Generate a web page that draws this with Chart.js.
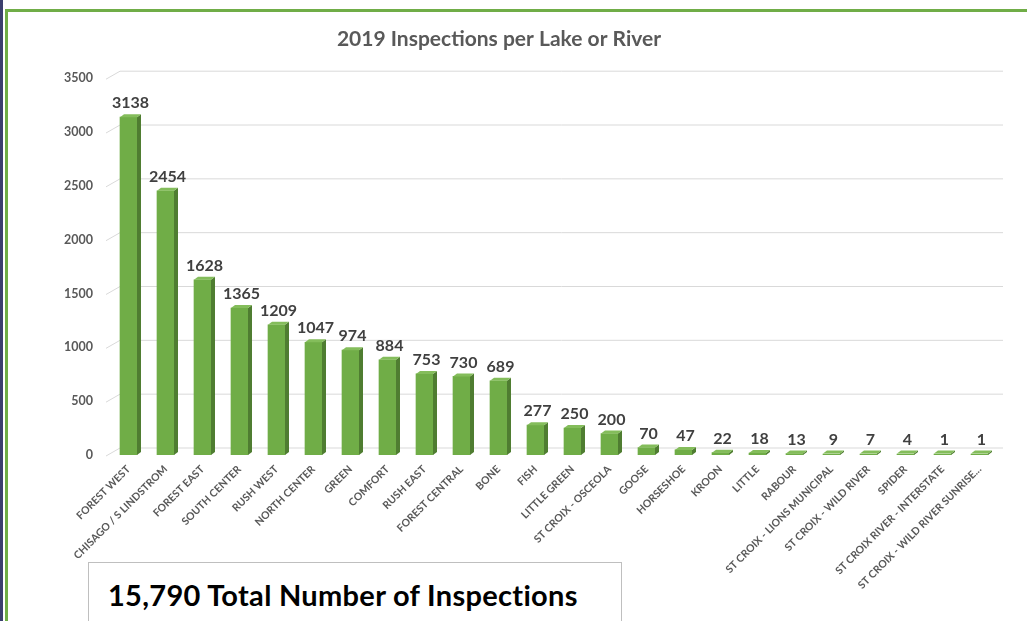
<!DOCTYPE html>
<html>
<head>
<meta charset="utf-8">
<script src="https://cdn.jsdelivr.net/npm/chart.js@4"></script>
<style>
  body { margin: 0; background: #fff; overflow: hidden; }
  #wrap { position: relative; width: 1027px; height: 621px; }
  #chart { position: absolute; left: 0; top: 0; }
  .navy { position: absolute; left: 0; top: 0; width: 3px; height: 621px; background: #3b3f6e; }
  .green-left { position: absolute; left: 5px; top: 9px; width: 3px; height: 612px; background: #70ad47; }
  .green-top { position: absolute; left: 5px; top: 9px; width: 1022px; height: 3px; background: #70ad47; }
  #total {
    position: absolute; left: 88px; top: 562px; width: 534px; height: 70px;
    border: 1px solid #bfbfbf; background: #fff; box-sizing: border-box;
    font-family: Lato, "Open Sans", sans-serif; font-weight: bold; font-size: 29px;
    color: #000; padding: 14px 0 0 19px; letter-spacing: 0.3px;
  }
</style>
</head>
<body>
<div id="wrap">
  <canvas id="chart" width="1027" height="621"></canvas>
  <div class="navy"></div>
  <div class="green-left"></div>
  <div class="green-top"></div>
  <div id="total">15,790 Total Number of Inspections</div>
</div>
<script>
// Lakes and rivers, in the order shown
const lakes = [
  "FOREST WEST", "CHISAGO / S LINDSTROM", "FOREST EAST", "SOUTH CENTER",
  "RUSH WEST", "NORTH CENTER", "GREEN", "COMFORT", "RUSH EAST",
  "FOREST CENTRAL", "BONE", "FISH", "LITTLE GREEN", "ST CROIX - OSCEOLA",
  "GOOSE", "HORSESHOE", "KROON", "LITTLE", "RABOUR",
  "ST CROIX - LIONS MUNICIPAL", "ST CROIX - WILD RIVER", "SPIDER",
  "ST CROIX RIVER - INTERSTATE", "ST CROIX - WILD RIVER SUNRISE..."
];

// Inspections per lake in 2019
const inspections = [
  3138, 2454, 1628, 1365, 1209, 1047, 974, 884, 753, 730, 689,
  277, 250, 200, 70, 47, 22, 18, 13, 9, 7, 4, 1, 1
];

const yTicks = [0, 500, 1000, 1500, 2000, 2500, 3000, 3500];

const font = "Lato, 'Open Sans', sans-serif";
const depthX = 4, depthY = 3;

// back-plane gridlines with a diagonal stub, like the 3D chart
const gridPlugin = {
  id: "grid3d",
  beforeDatasetsDraw(chart) {
    const ctx = chart.ctx;
    const y = chart.scales.y;
    const left = chart.chartArea.left - 4;
    ctx.save();
    ctx.strokeStyle = "#d9d9d9";
    ctx.lineWidth = 1;
    yTicks.forEach(v => {
      const py = y.getPixelForValue(v);
      ctx.beginPath();
      ctx.moveTo(left, py + 1);
      ctx.lineTo(left + 14, py - 7);
      ctx.lineTo(chart.chartArea.right + 5, py - 7);
      ctx.stroke();
    });
    ctx.restore();
  }
};

// darker side, lighter top, and value labels
const barPlugin = {
  id: "bar3d",
  afterDatasetsDraw(chart) {
    const ctx = chart.ctx;
    const meta = chart.getDatasetMeta(0);
    ctx.save();
    meta.data.forEach((bar, i) => {
      const half = bar.width / 2;
      const l = bar.x - half, r = bar.x + half;
      let top = bar.y;
      if (bar.base - top < 1.5) top = bar.base - 1.5;
      ctx.fillStyle = "#4f7d31";
      ctx.beginPath();
      ctx.moveTo(r, top);
      ctx.lineTo(r + depthX, top - depthY);
      ctx.lineTo(r + depthX, bar.base - depthY);
      ctx.lineTo(r, bar.base);
      ctx.closePath();
      ctx.fill();
      ctx.fillStyle = "#84bd5b";
      ctx.beginPath();
      ctx.moveTo(l, top);
      ctx.lineTo(l + depthX, top - depthY);
      ctx.lineTo(r + depthX, top - depthY);
      ctx.lineTo(r, top);
      ctx.closePath();
      ctx.fill();

      ctx.fillStyle = "#404040";
      ctx.font = "bold 16px " + font;
      ctx.textAlign = "center";
      ctx.textBaseline = "bottom";
      ctx.fillText(String(inspections[i]), bar.x + 2, top - 6);
    });
    ctx.restore();
  }
};

new Chart(document.getElementById("chart"), {
  type: "bar",
  data: {
    labels: lakes,
    datasets: [{
      label: "Inspections",
      data: inspections,
      backgroundColor: "#70ad47",
      barThickness: 17,
      minBarLength: 1
    }]
  },
  options: {
    responsive: false,
    animation: false,
    layout: { padding: { left: 0, right: 29, top: 0, bottom: 0 } },
    plugins: {
      legend: { display: false },
      tooltip: { enabled: false },
      title: {
        display: true,
        text: "2019 Inspections per Lake or River",
        color: "#595959",
        font: { family: font, size: 21, weight: "bold" },
        padding: { top: 27, bottom: 26 }
      }
    },
    scales: {
      x: {
        grid: { display: false },
        border: { display: false },
        ticks: {
          autoSkip: false,
          maxRotation: 45,
          minRotation: 45,
          padding: 0,
          color: "#595959",
          font: { family: font, size: 10.5, weight: "bold" }
        },
        afterFit(scale) { scale.height = 166; }
      },
      y: {
        min: 0,
        max: 3500,
        grid: { display: false },
        border: { display: false },
        afterBuildTicks(scale) { scale.ticks = yTicks.map(v => ({ value: v })); },
        ticks: {
          padding: 9,
          color: "#595959",
          font: { family: font, size: 12.5, weight: "bold" },
          callback: v => String(v)
        },
        afterFit(scale) { scale.width = 110; }
      }
    }
  },
  plugins: [gridPlugin, barPlugin]
});
</script>
</body>
</html>
